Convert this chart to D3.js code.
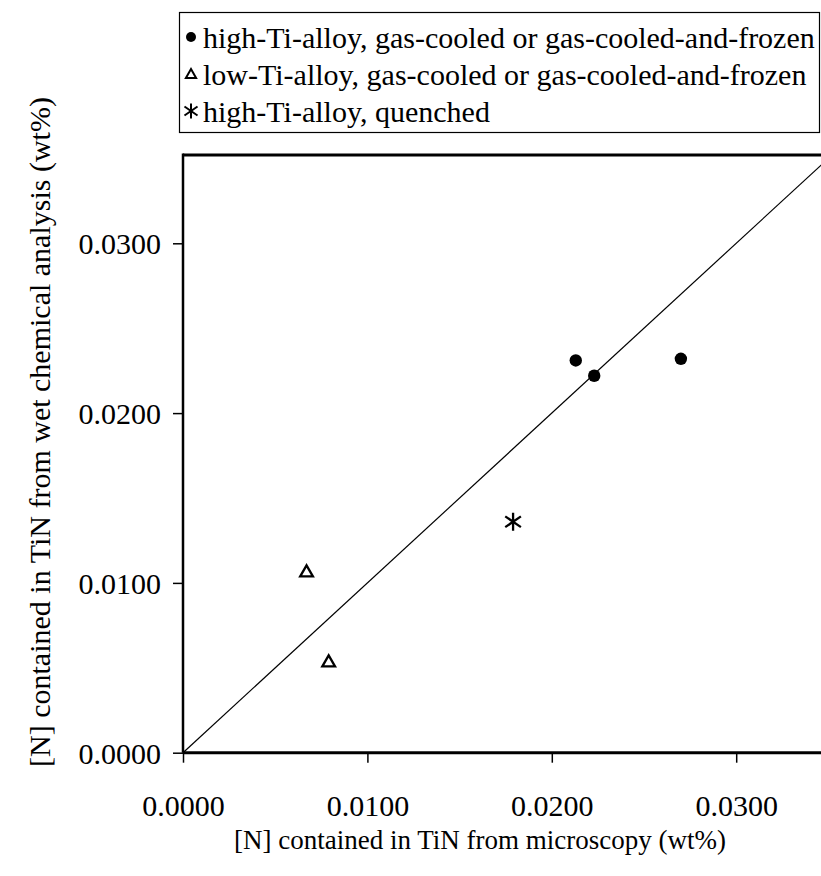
<!DOCTYPE html>
<html>
<head>
<meta charset="utf-8">
<script src="https://cdn.jsdelivr.net/npm/d3@7"></script>
<style>
  body { margin: 0; background: #fff; }
</style>
</head>
<body>
<script>
// Data
var highTiGas = [ // high-Ti-alloy, gas-cooled or gas-cooled-and-frozen
    {x: 0.0213, y: 0.0231},
    {x: 0.0223, y: 0.0222},
    {x: 0.0270, y: 0.0232}
];
var lowTiGas = [ // low-Ti-alloy, gas-cooled or gas-cooled-and-frozen
    {x: 0.0067, y: 0.0106},
    {x: 0.0079, y: 0.0053}
];
var highTiQuenched = [ // high-Ti-alloy, quenched
    {x: 0.0179, y: 0.0136}
];
var tickValues = [0, 0.01, 0.02, 0.03];
var legendLabels = [
    'high-Ti-alloy, gas-cooled or gas-cooled-and-frozen',
    'low-Ti-alloy, gas-cooled or gas-cooled-and-frozen',
    'high-Ti-alloy, quenched'
];

var serif = '"Liberation Serif", "Times New Roman", serif';

var svg = d3.select('body').append('svg')
    .attr('width', 821)
    .attr('height', 876);

// Scales - the plot runs a little past the right edge of the window
var x = d3.scaleLinear().domain([0, 0.035]).range([183, 828.4]);
var y = d3.scaleLinear().domain([0, 0.0352]).range([752.7, 155]);

var fmt = d3.format('.4f');

// y = x reference line
svg.append('line')
    .attr('x1', x(0)).attr('y1', y(0))
    .attr('x2', x(0.035)).attr('y2', y(0.035))
    .style('stroke', '#000')
    .style('stroke-width', 1.2);

// top border
svg.append('line')
    .attr('x1', x(0)).attr('y1', y(0.0352))
    .attr('x2', 821).attr('y2', y(0.0352))
    .style('stroke', '#000')
    .style('stroke-width', 3);

// Axes
var xAxis = svg.append('g')
    .attr('transform', 'translate(0,' + y(0) + ')')
    .call(d3.axisBottom(x).tickValues(tickValues).tickFormat(fmt).tickSize(10).tickPadding(32));
var yAxis = svg.append('g')
    .attr('transform', 'translate(' + x(0) + ',0)')
    .call(d3.axisLeft(y).tickValues(tickValues).tickFormat(fmt).tickSize(10).tickPadding(12));

svg.selectAll('.domain').remove();
svg.selectAll('.tick line').style('stroke', '#000').style('stroke-width', 1.5);
svg.selectAll('.tick text')
    .style('font-family', serif)
    .style('font-size', '30px')
    .style('fill', '#000');
yAxis.selectAll('.tick text').attr('dy', '0.35em');

// axis lines drawn on top
svg.append('line')
    .attr('x1', x(0)).attr('y1', y(0))
    .attr('x2', 821).attr('y2', y(0))
    .style('stroke', '#000').style('stroke-width', 3);
svg.append('line')
    .attr('x1', x(0)).attr('y1', y(0))
    .attr('x2', x(0)).attr('y2', y(0.0352) - 1.5)
    .style('stroke', '#000').style('stroke-width', 2.5);

// Axis titles
svg.append('text')
    .attr('x', 480)
    .attr('y', 849)
    .attr('text-anchor', 'middle')
    .style('font-family', serif)
    .style('font-size', '27px')
    .text('[N] contained in TiN from microscopy (wt%)');

svg.append('text')
    .attr('transform', 'translate(50,432) rotate(-90)')
    .attr('text-anchor', 'middle')
    .style('font-family', serif)
    .style('font-size', '30px')
    .text('[N] contained in TiN from wet chemical analysis (wt%)');

// Marker shapes
var triangle = d3.symbol().type(d3.symbolTriangle).size(70);
function starPath(s) {
    return 'M0,' + (-s) + 'V' + s +
        'M' + (-s * 0.87) + ',' + (-s * 0.6) + 'L' + (s * 0.87) + ',' + (s * 0.6) +
        'M' + (-s * 0.87) + ',' + (s * 0.6) + 'L' + (s * 0.87) + ',' + (-s * 0.6);
}

svg.selectAll('.highGas')
    .data(highTiGas)
    .enter()
    .append('circle')
    .attr('class', 'highGas')
    .attr('cx', function(d){ return x(d.x); })
    .attr('cy', function(d){ return y(d.y); })
    .attr('r', 6.2)
    .style('fill', '#000');

svg.selectAll('.lowGas')
    .data(lowTiGas)
    .enter()
    .append('path')
    .attr('class', 'lowGas')
    .attr('d', triangle)
    .attr('transform', function(d){ return 'translate(' + x(d.x) + ',' + y(d.y) + ')'; })
    .style('fill', 'none')
    .style('stroke', '#000')
    .style('stroke-width', 2.3);

svg.selectAll('.quenched')
    .data(highTiQuenched)
    .enter()
    .append('path')
    .attr('class', 'quenched')
    .attr('d', starPath(9))
    .attr('transform', function(d){ return 'translate(' + x(d.x) + ',' + y(d.y) + ')'; })
    .style('fill', 'none')
    .style('stroke', '#000')
    .style('stroke-width', 2.3);

// Legend
var legend = svg.append('g');
legend.append('rect')
    .attr('x', 179.5).attr('y', 12.5)
    .attr('width', 640).attr('height', 120)
    .style('fill', '#fff')
    .style('stroke', '#000')
    .style('stroke-width', 1.2);

var rowY = [37, 74, 111];
legend.append('circle')
    .attr('cx', 191).attr('cy', rowY[0]).attr('r', 5)
    .style('fill', '#000');
legend.append('path')
    .attr('d', d3.symbol().type(d3.symbolTriangle).size(45))
    .attr('transform', 'translate(191,' + (rowY[1] + 1) + ')')
    .style('fill', 'none').style('stroke', '#000').style('stroke-width', 2);
legend.append('path')
    .attr('d', starPath(7.5))
    .attr('transform', 'translate(191,' + rowY[2] + ')')
    .style('fill', 'none').style('stroke', '#000').style('stroke-width', 2);

legend.selectAll('.legendText')
    .data(legendLabels)
    .enter()
    .append('text')
    .attr('class', 'legendText')
    .attr('x', 203)
    .attr('y', function(d, i){ return rowY[i]; })
    .attr('dy', '0.35em')
    .style('font-family', serif)
    .style('font-size', '30px')
    .text(function(d){ return d; });
</script>
</body>
</html>
